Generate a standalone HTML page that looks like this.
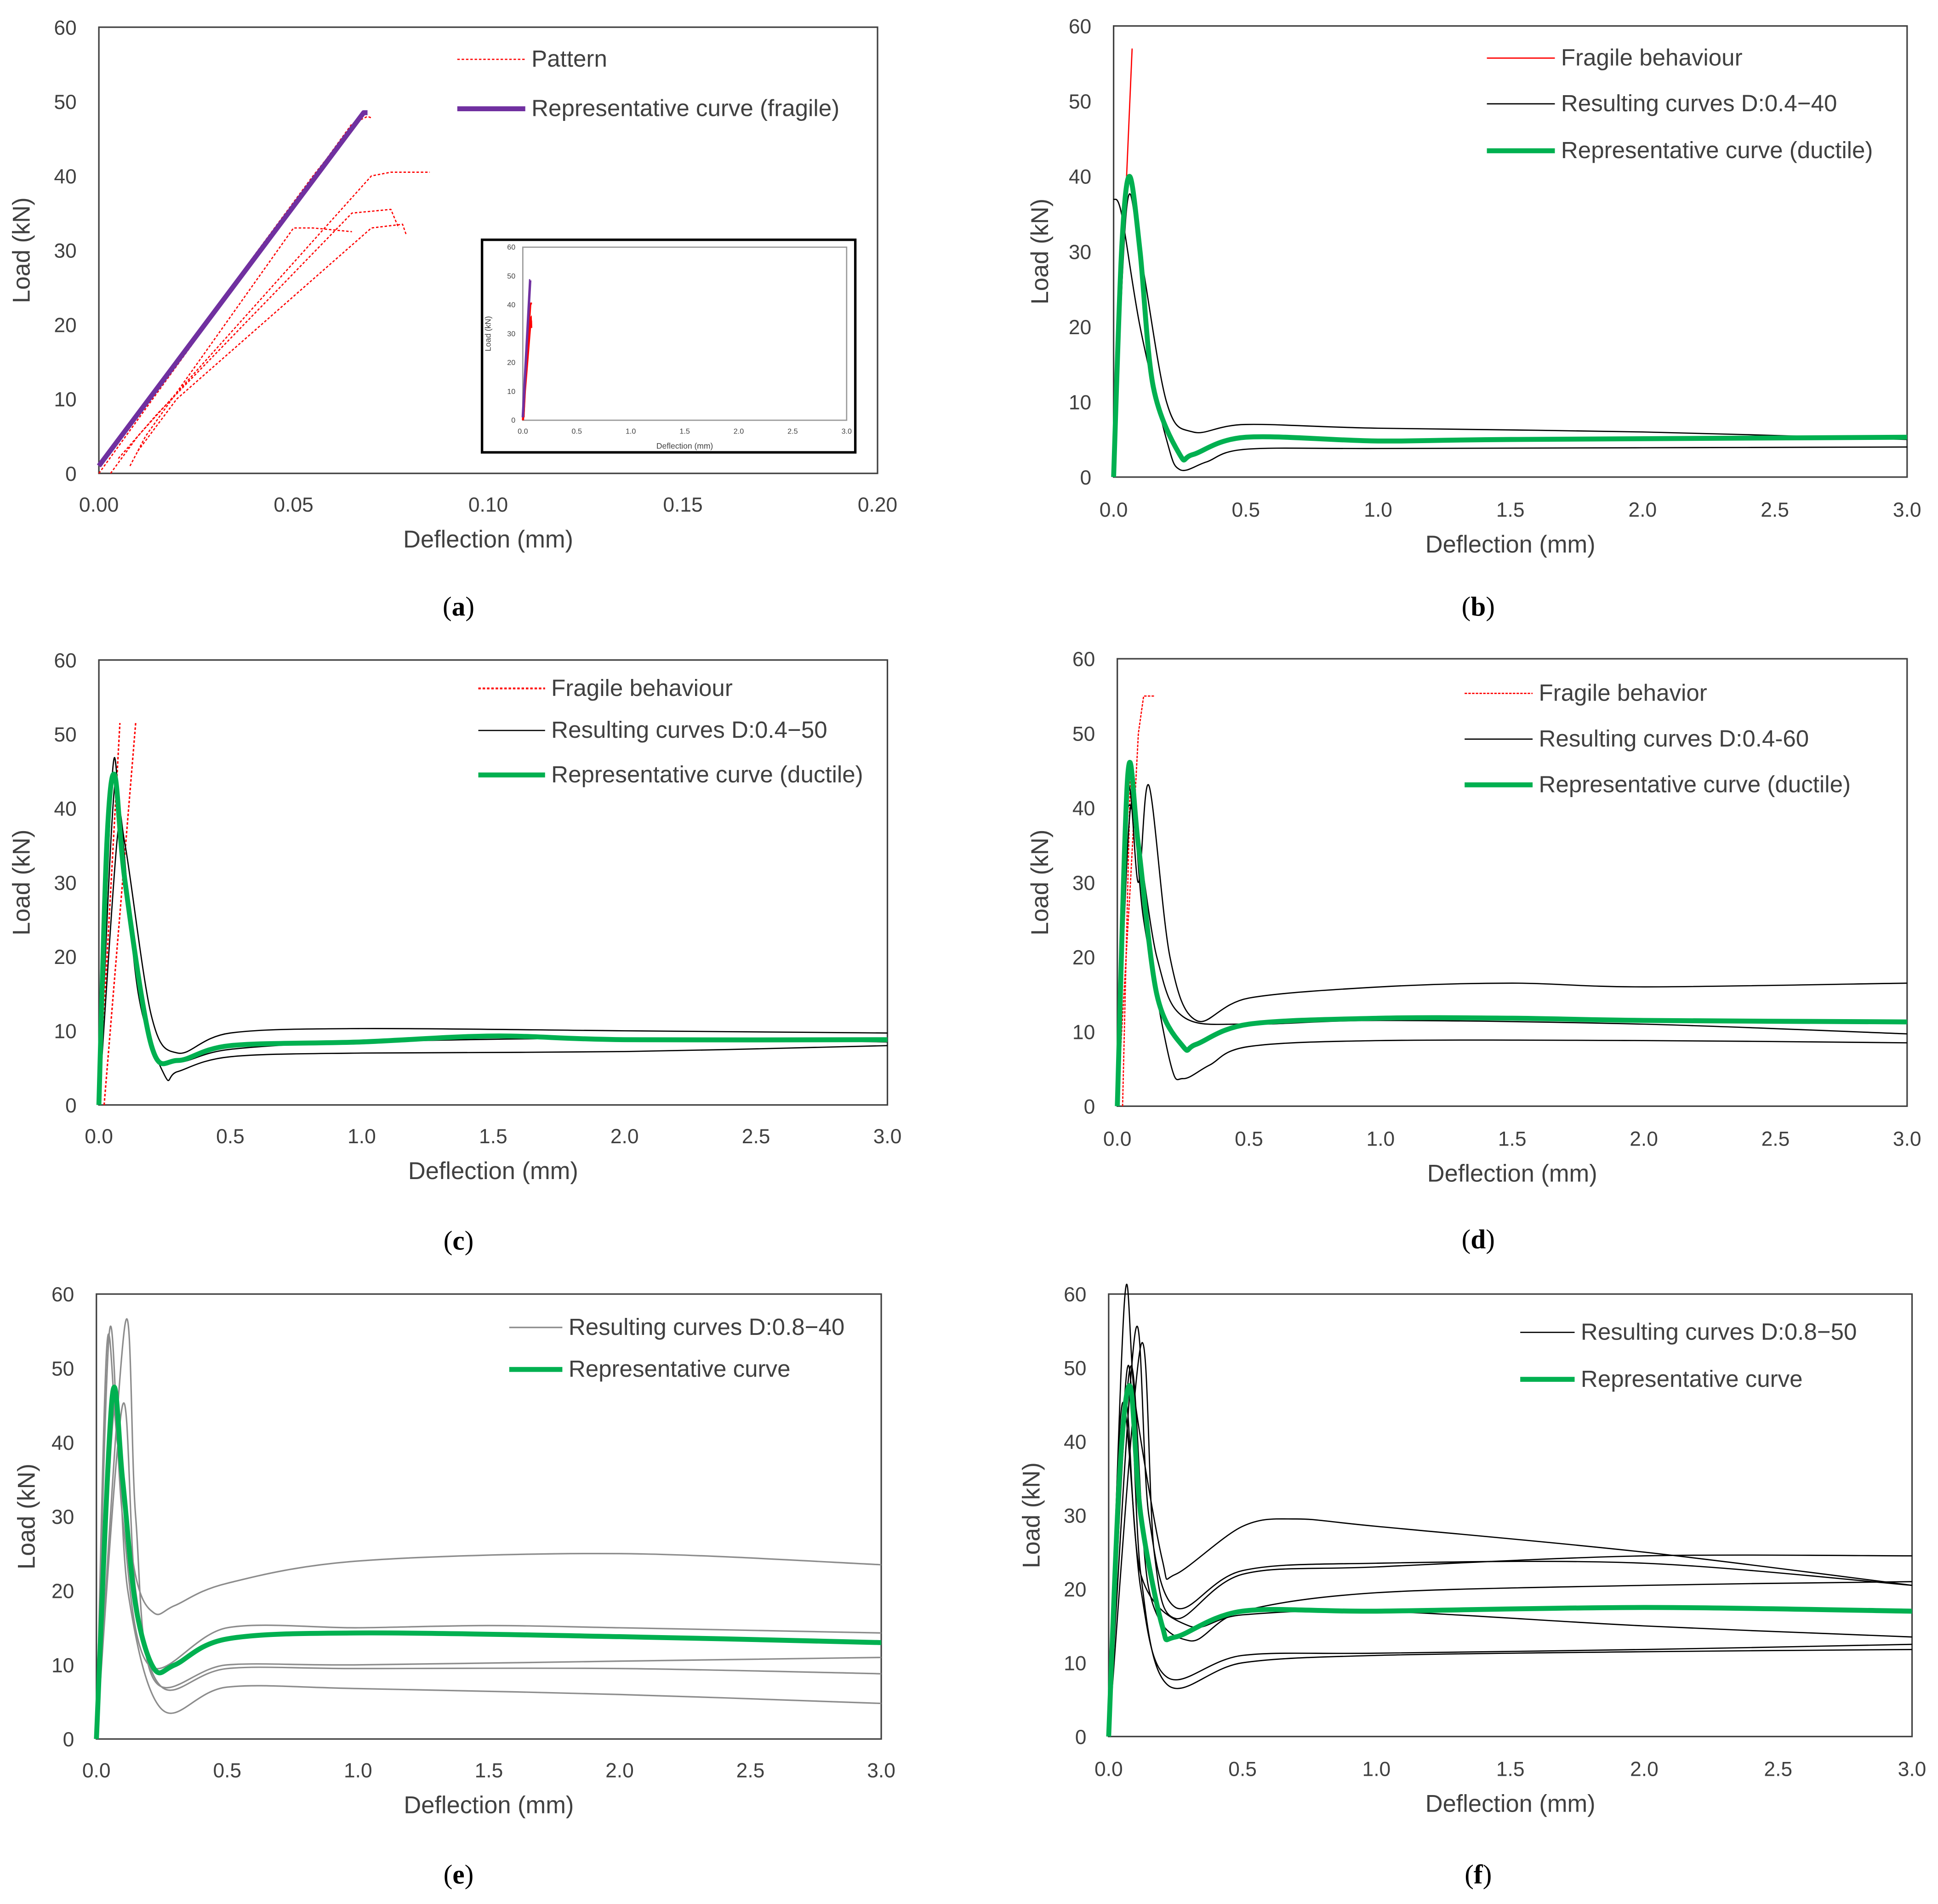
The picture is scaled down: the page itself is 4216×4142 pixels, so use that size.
<!DOCTYPE html>
<html><head><meta charset="utf-8">
<style>
html,body{margin:0;padding:0;background:#fff;}
svg{display:block;}
text{font-family:"Liberation Sans",sans-serif;fill:#404040;}
</style></head>
<body>
<svg id="fig" width="4216" height="4142" viewBox="0 0 1568 1540.5" preserveAspectRatio="none" xmlns="http://www.w3.org/2000/svg"></svg>
<script>
// ---------- data ----------
const aPatternX=[[0,0.065,0.069,0.07],[0,0.055,0.068],[0.003,0.01,0.07,0.075,0.085],[0.008,0.012,0.05,0.055,0.065],[0.005,0.015,0.065,0.075,0.077],[0.01,0.02,0.07,0.078,0.079]];
const aPatternY=[[0,47,48,47.8],[1,40,48.5],[0,5,40,40.5,40.5],[1,5,33,33,32.5],[2,8,35,35.5,33],[3,10,33,33.5,32]];
const aRepX=[0,0.068,0.069];
const aRepY=[1,48.5,48.5];

const bRedX=[0,0.07]; const bRedY=[0,57];
const bBlackX=[[0,0.03,0.1,0.2,0.25,0.35,0.5,1,2,3],[0,0.05,0.1,0.2,0.3,0.5,1,2,3]];
const bBlackY=[[37,35,20,5,1,2,3.7,3.8,3.9,4],[0,36,30,10,6,7,6.5,6,5]];
const bGreenX=[0,0.03,0.06,0.1,0.15,0.25,0.3,0.5,1,1.5,3];
const bGreenY=[0,30,40,30,12,3,3,5.3,4.8,5,5.3];

const cRedX=[[0,0.08],[0.02,0.14]]; const cRedY=[[0,51.5],[0,51.5]];
const cBlackX=[[0,0.05,0.08,0.15,0.25,0.3,0.5,1,2,3],[0,0.07,0.1,0.2,0.3,0.5,1,2,3],[0,0.06,0.1,0.2,0.3,0.5,1,2,3]];
const cBlackY=[[0,44,40,15,4,4.5,6.5,7,7.2,8],[0,36,35,12,7,9.7,10.3,10,9.7],[0,43,30,8,5.8,7.5,8.5,9,8.5]];
const cGreenX=[0,0.03,0.06,0.1,0.2,0.3,0.5,1,1.5,2,3];
const cGreenY=[0,35,44.5,30,8,6,8,8.5,9.3,8.8,8.8];

const dRedX=[[0,0.05,0.08,0.1,0.14],[0.02,0.05]]; const dRedY=[[0,30,50,55,55],[0,45]];
const dBlackX=[[0,0.04,0.08,0.12,0.2,0.3,0.5,1,1.5,2,3],[0,0.05,0.1,0.2,0.25,0.35,0.5,1,2,3],[0,0.04,0.15,0.25,0.5,1,2,3]];
const dBlackY=[[0,42,30,43,20,11.5,14.5,16,16.5,16,16.5],[0,40,25,6,3.7,5.5,8,8.8,8.8,8.5],[0,40,20,12,11,11.5,11,9.7]];
const dGreenX=[0,0.04,0.08,0.15,0.25,0.3,0.5,1,1.5,2,3];
const dGreenY=[0,44.5,35,15,8,8.3,11,11.8,11.8,11.5,11.3];

const eGrayX=[[0,0.04,0.08,0.15,0.22,0.3,0.5,1,2,3],[0,0.05,0.1,0.2,0.5,1,1.5,2,3],[0,0.11,0.15,0.22,0.5,1,2,3],[0,0.1,0.15,0.25,0.5,1,2,3],[0,0.07,0.12,0.25,0.5,1,2,3]];
const eGrayY=[[0,53,40,22,17,18,21,24,25,23.5],[0,55,30,10,15,15,15.3,15,14.3],[0,56,30,8,10,10,10.5,11],[0,45,20,7,9.5,9.5,9.5,8.8],[0,45,20,4,7,6.8,6,4.8]];
const eGreenX=[0,0.06,0.1,0.15,0.22,0.3,0.5,1,2,3];
const eGreenY=[0,46,35,18,9.5,10,13.5,14.3,13.8,13];

const fBlackX=[[0,0.06,0.1,0.2,0.25,0.5,0.7,1,2,3],[0,0.1,0.15,0.25,0.5,1,2,3],[0,0.12,0.17,0.25,0.5,1,2,3],[0,0.08,0.15,0.3,0.5,1,2,3],[0,0.05,0.12,0.22,0.5,1,2,3],[0,0.07,0.12,0.22,0.5,1,2,3],[0,0.06,0.12,0.3,0.5,1,2,3]];
const fBlackY=[[0,59.5,45,24,22,28.5,29.5,28.5,25,20.5],[0,55,30,17.5,22.5,23.5,23.5,20.5],[0,53,25,16,22,23,24.5,24.5],[0,50,20,13,17,19.5,20.5,21],[0,45,20,8,11,11.3,11.8,12.5],[0,50,22,7,10,11,11.5,11.8],[0,45,22,15,16.5,17,15,13.5]];
const fGreenX=[0,0.04,0.08,0.12,0.2,0.25,0.5,1,2,3];
const fGreenY=[0,35,47.5,30,15,13.5,17,17,17.5,17];

const yTicks=[0,10,20,30,40,50,60];
const xTicksA=["0.00","0.05","0.10","0.15","0.20"];
const xTicksB=["0.0","0.5","1.0","1.5","2.0","2.5","3.0"];

// ---------- drawing ----------
const NS="http://www.w3.org/2000/svg";
const svg=document.getElementById('fig');
function mk(tag,parent){const e=document.createElementNS(NS,tag);parent.appendChild(e);return e;}
function txt(parent,x,y,s,size,anchor,name){
  const t=mk('text',parent);
  t.setAttribute('x',x);t.setAttribute('y',y);
  t.setAttribute('font-size',size);t.setAttribute('text-anchor',anchor);
  
  
  t.textContent=s;return t;
}
function smoothPath(pts){
  let d='M'+pts[0][0].toFixed(2)+','+pts[0][1].toFixed(2);
  for(let i=0;i<pts.length-1;i++){
    const p0=pts[i-1]||pts[i],p1=pts[i],p2=pts[i+1],p3=pts[i+2]||p2;
    const t=0.16;
    const c1=[p1[0]+(p2[0]-p0[0])*t,p1[1]+(p2[1]-p0[1])*t];
    const c2=[p2[0]-(p3[0]-p1[0])*t,p2[1]-(p3[1]-p1[1])*t];
    d+='C'+c1[0].toFixed(2)+','+c1[1].toFixed(2)+' '+c2[0].toFixed(2)+','+c2[1].toFixed(2)+' '+p2[0].toFixed(2)+','+p2[1].toFixed(2);
  }
  return d;
}
function panel(cfg){
  const g=mk('g',svg);
  
  
  const {x0,x1,y0,y1,xmax}=cfg;
  const sx=v=>x0+(v/xmax)*(x1-x0);
  const sy=v=>y1-(v/60)*(y1-y0);
  const frame=mk('rect',g);
  frame.setAttribute('x',x0);frame.setAttribute('y',y0);frame.setAttribute('width',x1-x0);frame.setAttribute('height',y1-y0);
  frame.setAttribute('fill','none');frame.setAttribute('stroke','#404040');frame.setAttribute('stroke-width','1.2');
  
  
  yTicks.forEach(v=>{txt(g,x0-18,sy(v)+6,String(v),16.5,'end','y-tick-label');});
  cfg.xt.forEach(s=>{txt(g,sx(parseFloat(s)),cfg.xly,s,16.5,'middle','x-tick-label');});
  txt(g,(x0+x1)/2,cfg.xly+29,'Deflection (mm)',19.5,'middle','x-axis-title');
  const yt=txt(g,0,0,'Load (kN)',19.5,'middle','y-axis-title');
  yt.setAttribute('transform','translate('+cfg.ytx+','+((y0+y1)/2)+') rotate(-90)');
  const cap=txt(g,cfg.capx,cfg.capy,'',22,'middle','panel-caption');
  cap.innerHTML='(<tspan font-weight="bold">'+cfg.id+'</tspan>)';
  cap.setAttribute('style','fill:#000;font-family:"Liberation Serif",serif');
  cfg.series.forEach(s=>{
    const pts=s.x.map((v,i)=>[sx(v),sy(s.y[i])]);
    const p=mk('path',g);
    p.setAttribute('d',s.straight?('M'+pts.map(q=>q[0].toFixed(2)+','+q[1].toFixed(2)).join('L')):smoothPath(pts));
    p.setAttribute('fill','none');p.setAttribute('stroke',s.c);p.setAttribute('stroke-width',s.w);
    p.setAttribute('stroke-linejoin','round');
    if(s.dash)p.setAttribute('stroke-dasharray',s.dash);
    
    
  });
  cfg.legend.forEach((L,i)=>{
    const ly=cfg.ly[i];
    const l=mk('line',g);
    l.setAttribute('x1',cfg.lx);l.setAttribute('x2',cfg.lx+cfg.lw);l.setAttribute('y1',ly);l.setAttribute('y2',ly);
    l.setAttribute('stroke',L.c);l.setAttribute('stroke-width',L.w);
    if(L.dash)l.setAttribute('stroke-dasharray',L.dash);
    
    
    txt(g,cfg.lx+cfg.lw+5,ly+6,L.t,19,'start','legend-entry');
  });
  return {g,sx,sy};
}
function multi(X,Y,c,w,name,dash,straight){return X.map((x,i)=>({x:x,y:Y[i],c:c,w:w,name:name+'-'+(i+1),dash:dash,straight:straight}));}

// Panel a
panel({id:'a',x0:80,x1:710,y0:22,y1:383,xmax:0.2,xt:xTicksA,xly:414,ytx:24,capx:371,capy:498,
 series:[...multi(aPatternX,aPatternY,'#ff0000',1,'pattern-curve','2,1.5',true),{x:aRepX,y:aRepY,c:'#7030a0',w:4,name:'representative-curve',straight:true}],
 lx:370,lw:55,ly:[48,88],legend:[{c:'#ff0000',w:1,dash:'2,1.5',t:'Pattern'},{c:'#7030a0',w:4,t:'Representative curve (fragile)'}]});
// inset in panel a
(function(){
  const g=mk('g',svg);
  
  
  const box=mk('rect',g);
  box.setAttribute('x',390);box.setAttribute('y',194);box.setAttribute('width',302);box.setAttribute('height',172);
  box.setAttribute('fill','#fff');box.setAttribute('stroke','#000');box.setAttribute('stroke-width','2');
  
  
  const X0=423,X1=685,Y0=200,Y1=340;
  const sx=v=>X0+(v/3)*(X1-X0), sy=v=>Y1-(v/60)*(Y1-Y0);
  const f=mk('rect',g);
  f.setAttribute('x',X0);f.setAttribute('y',Y0);f.setAttribute('width',X1-X0);f.setAttribute('height',Y1-Y0);
  f.setAttribute('fill','none');f.setAttribute('stroke','#999');f.setAttribute('stroke-width','1');
  
  
  yTicks.forEach(v=>{txt(g,X0-6,sy(v)+2,String(v),6,'end','inset-y-tick');});
  xTicksB.forEach(s=>{txt(g,sx(parseFloat(s)),351,s,6,'middle','inset-x-tick');});
  txt(g,(X0+X1)/2,363,'Deflection (mm)',6.5,'middle','inset-x-title');
  const yt=txt(g,0,0,'Load (kN)',6.5,'middle','inset-y-title');
  yt.setAttribute('transform','translate(397,'+((Y0+Y1)/2)+') rotate(-90)');
  aPatternX.forEach((xs,i)=>{
    const p=mk('path',g);
    p.setAttribute('d','M'+xs.map((v,j)=>sx(v).toFixed(2)+','+sy(aPatternY[i][j]).toFixed(2)).join('L'));
    p.setAttribute('fill','none');p.setAttribute('stroke','#ff0000');p.setAttribute('stroke-width','1.5');
    
    
  });
  const r=mk('path',g);
  r.setAttribute('d','M'+aRepX.map((v,j)=>sx(v).toFixed(2)+','+sy(aRepY[j]).toFixed(2)).join('L'));
  r.setAttribute('fill','none');r.setAttribute('stroke','#7030a0');r.setAttribute('stroke-width','2');
  
  
})();

const G='#00b050';
panel({id:'b',x0:901,x1:1543,y0:21,y1:386,xmax:3,xt:xTicksB,xly:418,ytx:848,capx:1196,capy:498,
 series:[{x:bRedX,y:bRedY,c:'#ff0000',w:1,name:'fragile-curve',straight:true},...multi(bBlackX,bBlackY,'#000',1,'resulting-curve'),{x:bGreenX,y:bGreenY,c:G,w:4,name:'representative-curve'}],
 lx:1203,lw:55,ly:[47,84,122],legend:[{c:'#ff0000',w:1,t:'Fragile behaviour'},{c:'#000',w:1,t:'Resulting curves D:0.4\u221240'},{c:G,w:4,t:'Representative curve (ductile)'}]});

panel({id:'c',x0:80,x1:718,y0:534,y1:894,xmax:3,xt:xTicksB,xly:925,ytx:24,capx:371,capy:1011,
 series:[...multi(cRedX,cRedY,'#ff0000',1.2,'fragile-curve','2,1.5',true),...multi(cBlackX,cBlackY,'#000',1,'resulting-curve'),{x:cGreenX,y:cGreenY,c:G,w:4,name:'representative-curve'}],
 lx:387,lw:54,ly:[557,591,627],legend:[{c:'#ff0000',w:1.5,dash:'2,1.5',t:'Fragile behaviour'},{c:'#000',w:1,t:'Resulting curves D:0.4\u221250'},{c:G,w:4,t:'Representative curve (ductile)'}]});

panel({id:'d',x0:904,x1:1543,y0:533,y1:895,xmax:3,xt:xTicksB,xly:927,ytx:848,capx:1196,capy:1010,
 series:[...multi(dRedX,dRedY,'#ff0000',1,'fragile-curve','2,1',true),...multi(dBlackX,dBlackY,'#000',1,'resulting-curve'),{x:dGreenX,y:dGreenY,c:G,w:4,name:'representative-curve'}],
 lx:1185,lw:55,ly:[561,598,635],legend:[{c:'#ff0000',w:1,dash:'2,1',t:'Fragile behavior'},{c:'#000',w:1,t:'Resulting curves D:0.4-60'},{c:G,w:4,t:'Representative curve (ductile)'}]});

panel({id:'e',x0:78,x1:713,y0:1047,y1:1407,xmax:3,xt:xTicksB,xly:1438,ytx:28,capx:371,capy:1524,
 series:[...multi(eGrayX,eGrayY,'#8c8c8c',1.2,'resulting-curve'),{x:eGreenX,y:eGreenY,c:G,w:4,name:'representative-curve'}],
 lx:412,lw:43,ly:[1074,1108],legend:[{c:'#8c8c8c',w:1.2,t:'Resulting curves D:0.8\u221240'},{c:G,w:4,t:'Representative curve'}]});

panel({id:'f',x0:897,x1:1547,y0:1047,y1:1405,xmax:3,xt:xTicksB,xly:1437,ytx:841,capx:1196,capy:1524,
 series:[...multi(fBlackX,fBlackY,'#000',1,'resulting-curve'),{x:fGreenX,y:fGreenY,c:G,w:4,name:'representative-curve'}],
 lx:1230,lw:44,ly:[1078,1116],legend:[{c:'#000',w:1,t:'Resulting curves D:0.8\u221250'},{c:G,w:4,t:'Representative curve'}]});
</script>
</body></html>
